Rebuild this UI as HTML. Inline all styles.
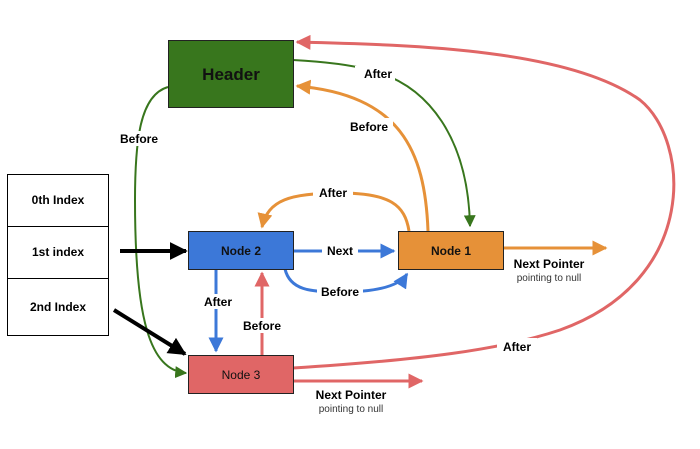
<!DOCTYPE html>
<html><head><meta charset="utf-8"><style>body{margin:0;background:#fff}svg{display:block}text{font-family:"Liberation Sans",sans-serif}</style></head><body>
<svg width="700" height="449" viewBox="0 0 700 449" xmlns="http://www.w3.org/2000/svg">
<defs>
<marker id="ar" viewBox="0 0 10 10" refX="9" refY="5" markerWidth="5" markerHeight="5" orient="auto" markerUnits="strokeWidth"><path d="M0,0L10,5L0,10z" fill="#e06666"/></marker>
<marker id="ao" viewBox="0 0 10 10" refX="9" refY="5" markerWidth="5" markerHeight="5" orient="auto" markerUnits="strokeWidth"><path d="M0,0L10,5L0,10z" fill="#e69138"/></marker>
<marker id="ab" viewBox="0 0 10 10" refX="9" refY="5" markerWidth="5" markerHeight="5" orient="auto" markerUnits="strokeWidth"><path d="M0,0L10,5L0,10z" fill="#3c78d8"/></marker>
<marker id="ag" viewBox="0 0 10 10" refX="9" refY="5" markerWidth="6" markerHeight="6" orient="auto" markerUnits="strokeWidth"><path d="M0,0L10,5L0,10z" fill="#38761d"/></marker>
<marker id="ak" viewBox="0 0 10 10" refX="9" refY="5" markerWidth="4.5" markerHeight="4.5" orient="auto" markerUnits="strokeWidth"><path d="M0,0L10,5L0,10z" fill="#000"/></marker>
</defs>
<g fill="#fff" stroke="#000" stroke-width="1">
<rect x="7.5" y="174.5" width="101" height="52"/>
<rect x="7.5" y="226.5" width="101" height="52"/>
<rect x="7.5" y="278.5" width="101" height="57"/>
</g>
<g font-size="12" font-weight="bold" text-anchor="middle" fill="#000">
<text x="58" y="204">0th Index</text>
<text x="58" y="256">1st index</text>
<text x="58" y="311">2nd Index</text>
</g>
<path d="M293,368 C420,360 500,350 560,330 C700,280 690,140 640,100 C570,50 420,45 297,42" fill="none" stroke="#e06666" stroke-width="3" marker-end="url(#ar)"/>
<rect x="497" y="338" width="40" height="16" fill="#fff"/>
<text x="517" y="351" font-size="12" font-weight="bold" text-anchor="middle">After</text>
<path d="M293,60 C330,62 355,66 370,70 C430,85 468,140 470,226" fill="none" stroke="#38761d" stroke-width="2" marker-end="url(#ag)"/>
<rect x="355" y="66" width="40" height="16" fill="#fff"/>
<text x="378" y="78" font-size="12" font-weight="bold" text-anchor="middle">After</text>
<path d="M428,231 C425,150 400,95 297,86" fill="none" stroke="#e69138" stroke-width="3" marker-end="url(#ao)"/>
<rect x="345" y="118" width="48" height="16" fill="#fff"/>
<text x="369" y="131" font-size="12" font-weight="bold" text-anchor="middle">Before</text>
<path d="M409,231 C405,205 390,193 340,193 C290,193 268,200 262,227" fill="none" stroke="#e69138" stroke-width="3" marker-end="url(#ao)"/>
<rect x="313" y="185" width="40" height="16" fill="#fff"/>
<text x="333" y="197" font-size="12" font-weight="bold" text-anchor="middle">After</text>
<path d="M168,87 C140,95 135,140 135,200 C135,320 150,370 186,373" fill="none" stroke="#38761d" stroke-width="2" marker-end="url(#ag)"/>
<rect x="117" y="131" width="46" height="15" fill="#fff"/>
<text x="139" y="143" font-size="12" font-weight="bold" text-anchor="middle">Before</text>
<path d="M293,251 L394,251" fill="none" stroke="#3c78d8" stroke-width="3" marker-end="url(#ab)"/>
<rect x="322" y="243" width="36" height="16" fill="#fff"/>
<text x="340" y="255" font-size="12" font-weight="bold" text-anchor="middle">Next</text>
<path d="M285,269 C290,290 310,292 340,292 C380,292 400,285 407,274" fill="none" stroke="#3c78d8" stroke-width="3" marker-end="url(#ab)"/>
<rect x="317" y="284" width="46" height="16" fill="#fff"/>
<text x="340" y="296" font-size="12" font-weight="bold" text-anchor="middle">Before</text>
<path d="M216,269 L216,351" fill="none" stroke="#3c78d8" stroke-width="3" marker-end="url(#ab)"/>
<rect x="200" y="294" width="36" height="15" fill="#fff"/>
<text x="218" y="306" font-size="12" font-weight="bold" text-anchor="middle">After</text>
<path d="M262,355 L262,273" fill="none" stroke="#e06666" stroke-width="3" marker-end="url(#ar)"/>
<rect x="240" y="318" width="46" height="15" fill="#fff"/>
<text x="262" y="330" font-size="12" font-weight="bold" text-anchor="middle">Before</text>
<path d="M120,251 L186,251" stroke="#000" stroke-width="4" marker-end="url(#ak)"/>
<path d="M114,310 L185,354" stroke="#000" stroke-width="4" marker-end="url(#ak)"/>
<path d="M503,248 L606,248" stroke="#e69138" stroke-width="3" marker-end="url(#ao)"/>
<text x="549" y="268" font-size="12" font-weight="bold" text-anchor="middle">Next Pointer</text>
<text x="549" y="281" font-size="10" fill="#333" text-anchor="middle">pointing to null</text>
<path d="M293,381 L422,381" stroke="#e06666" stroke-width="3" marker-end="url(#ar)"/>
<text x="351" y="399" font-size="12" font-weight="bold" text-anchor="middle">Next Pointer</text>
<text x="351" y="412" font-size="10" fill="#333" text-anchor="middle">pointing to null</text>
<rect x="168.5" y="40.5" width="125" height="67" fill="#38761d" stroke="#222"/>
<text x="231" y="80" font-size="17" font-weight="bold" text-anchor="middle" fill="#111">Header</text>
<rect x="188.5" y="231.5" width="105" height="38" fill="#3c78d8" stroke="#222"/>
<text x="241" y="255" font-size="12" font-weight="bold" text-anchor="middle" fill="#111">Node 2</text>
<rect x="398.5" y="231.5" width="105" height="38" fill="#e69138" stroke="#222"/>
<text x="451" y="255" font-size="12" font-weight="bold" text-anchor="middle" fill="#111">Node 1</text>
<rect x="188.5" y="355.5" width="105" height="38" fill="#e06666" stroke="#222"/>
<text x="241" y="379" font-size="12" text-anchor="middle" fill="#111">Node 3</text>
</svg>
</body></html>
